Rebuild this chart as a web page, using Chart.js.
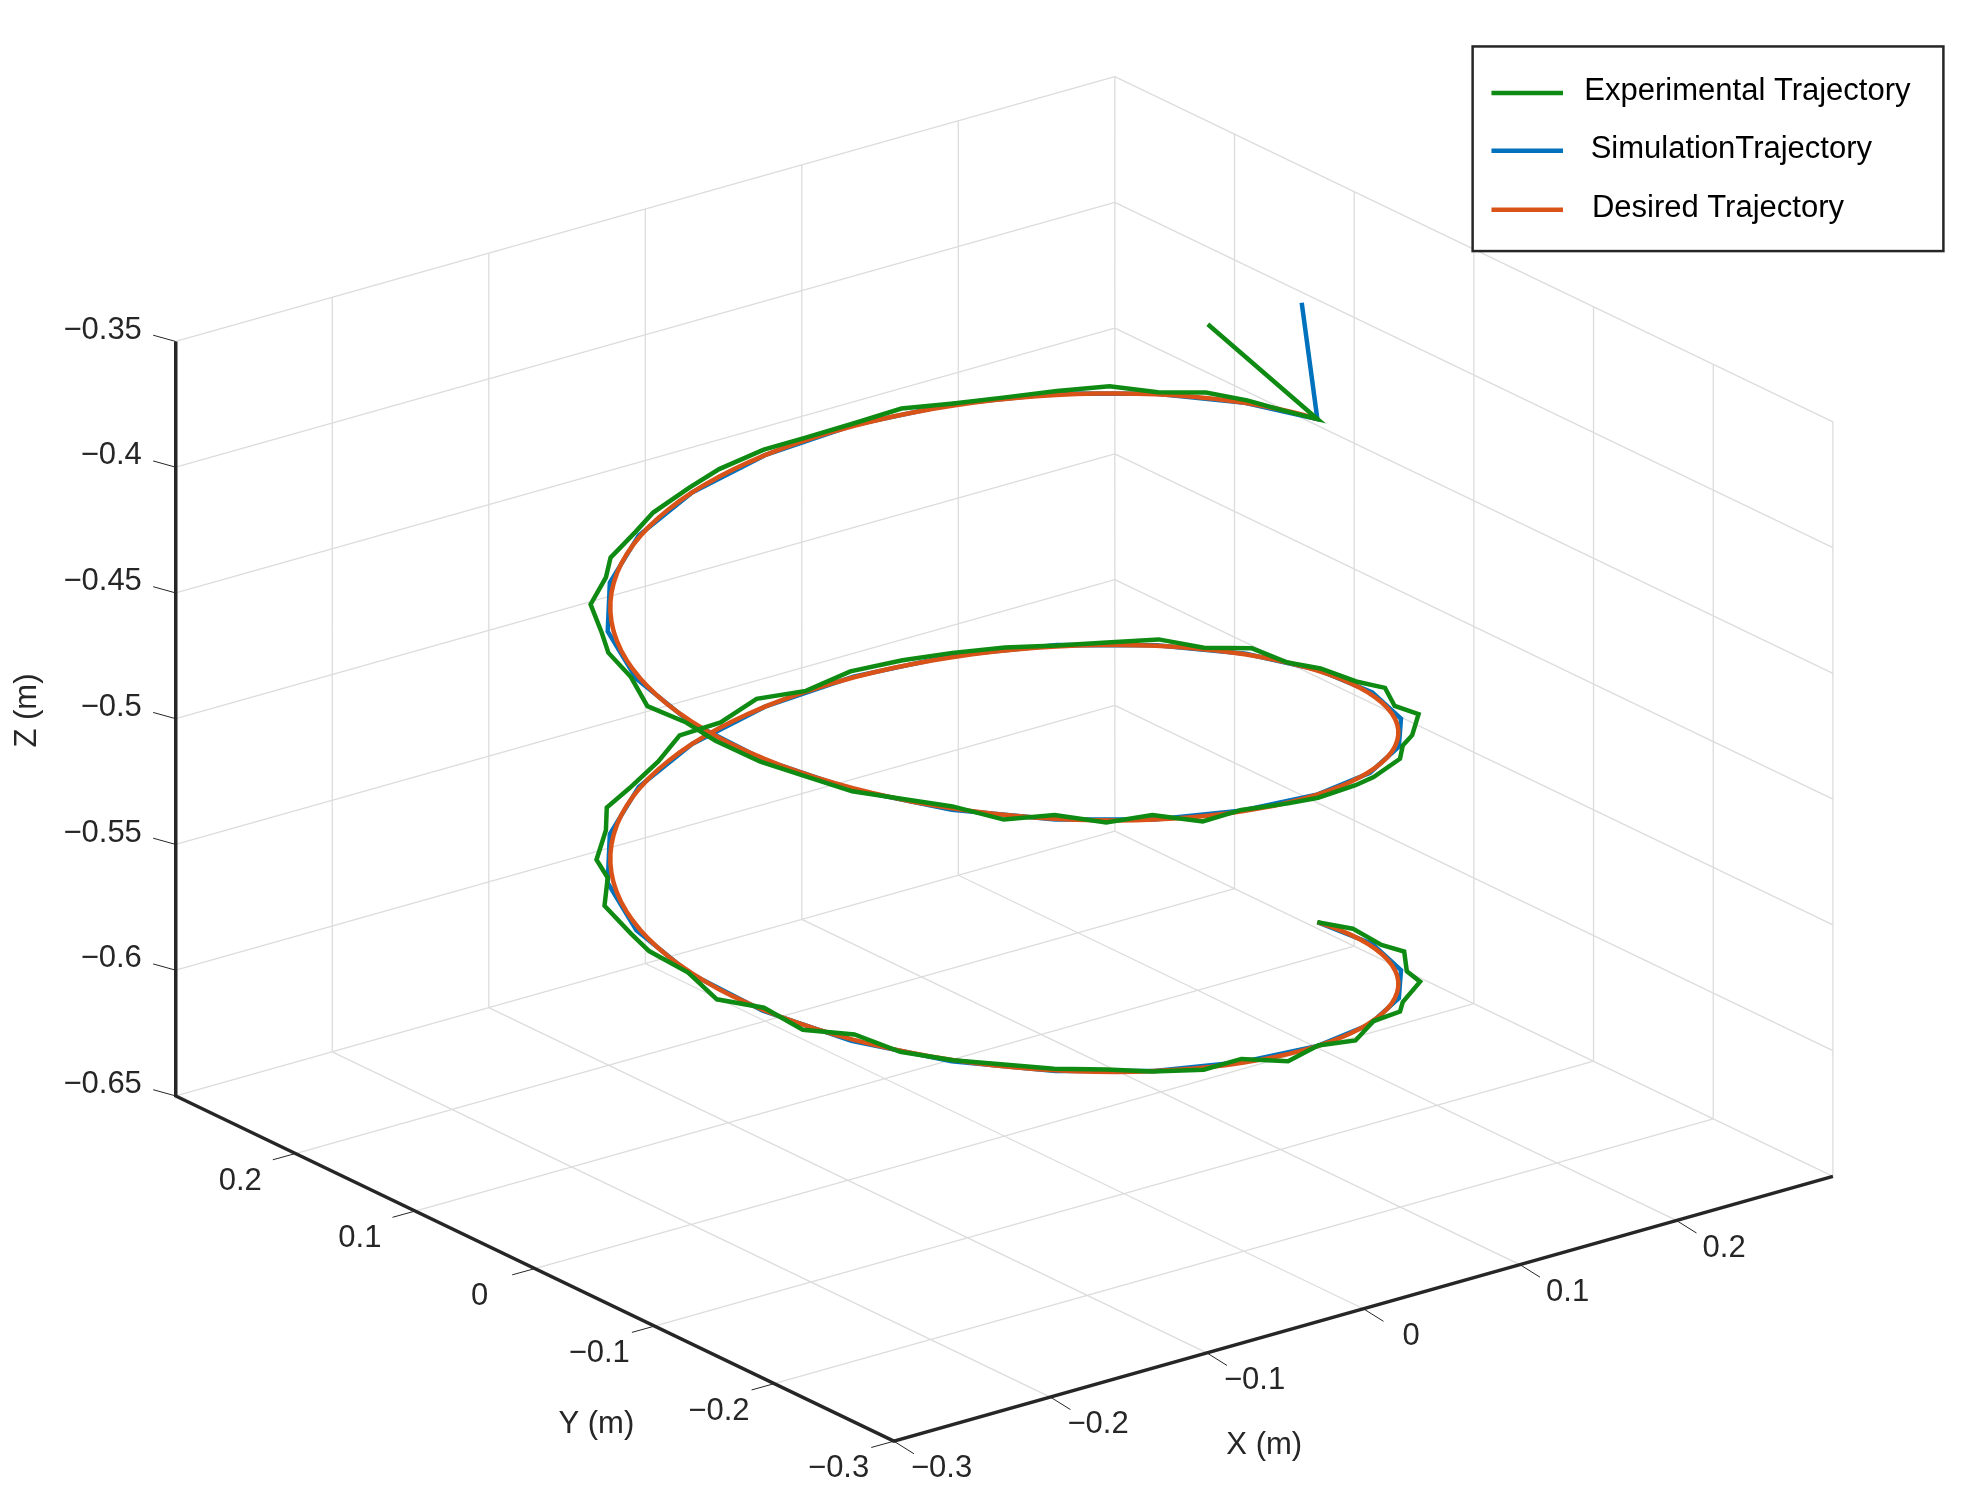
<!DOCTYPE html>
<html><head><meta charset="utf-8">
<script src="https://cdn.jsdelivr.net/npm/chart.js@4.4.1/dist/chart.umd.min.js"></script>
<style>html,body{margin:0;padding:0;background:#fff}#wrap{width:1966px;height:1511px}</style>
</head><body><div id="wrap"><canvas id="c" width="1966" height="1511"></canvas></div>
<script>
// ---- data ----
const xTicks = [-0.3,-0.2,-0.1,0,0.1,0.2,0.3];
const yTicks = [-0.3,-0.2,-0.1,0,0.1,0.2,0.3];
const zTicks = [-0.65,-0.6,-0.55,-0.5,-0.45,-0.4,-0.35];
const xTickLabels = ['−0.3','−0.2','−0.1','0','0.1','0.2'];
const yTickLabels = ['−0.3','−0.2','−0.1','0','0.1','0.2'];
const zTickLabels = ['−0.65','−0.6','−0.55','−0.5','−0.45','−0.4','−0.35'];
const seriesNames = ['Experimental Trajectory','SimulationTrajectory','Desired Trajectory'];
const helixRadius = 0.2, helixZStart = -0.6, helixZEnd = -0.4, helixTurns = 2;
// experimental deviations (every 7.5 deg), radial and vertical, metres
const expDr = [0.000,0.004,0.007,0.010,0.006,0.011,0.004,0.008,0.003,0.006,0.001,0.004,-0.002,0.003,-0.003,0.002,-0.004,0.001,-0.003,0.003,-0.002,0.004,0.000,0.006,0.002,0.008,0.005,0.010,0.003,0.007,0.004,0.009,0.006,0.003,0.008,0.004,0.007,0.002,0.005,0.001,0.004,-0.001,0.003,0.000,0.004,0.002,0.006,0.003,
 0.002,0.006,0.009,0.005,0.012,0.007,0.004,0.008,0.003,0.006,0.001,0.004,-0.002,0.002,-0.003,0.001,-0.002,0.003,-0.001,0.004,0.001,0.005,0.003,0.007,0.004,0.009,0.005,0.008,0.006,0.010,0.004,0.007,0.003,0.006,0.002,0.005,0.001,0.004,0.000,0.003,0.001,0.004,0.002,0.005,0.003,0.004,0.002,0.001,0.000];
const expDz = [0.000,0.001,-0.001,0.0015,-0.0005,0.001,-0.0015,0.0005,0.0015,-0.001,0.0005,-0.0015,0.001,0.000,-0.001,0.0015,-0.0005,0.001,-0.001,0.0005,0.0015,-0.0005,0.001,-0.0015,0.0005,0.0015,-0.001,0.001,0.002,-0.0005,0.0015,0.0005,-0.001,0.001,0.002,0.000,0.0015,-0.0005,0.001,0.002,0.0005,0.0015,-0.0005,0.001,0.0015,0.000,0.001,-0.001,
 0.0005,-0.001,0.001,-0.0005,0.0015,-0.001,0.0005,0.001,-0.0015,0.0005,-0.001,0.001,0.000,-0.0015,0.001,-0.0005,0.001,-0.001,0.0005,0.0015,-0.001,0.001,-0.0005,0.0015,0.0005,-0.001,0.001,0.0015,-0.0005,0.001,0.002,0.000,0.001,-0.0005,0.0015,0.0005,0.002,-0.0005,0.001,0.0015,0.0005,-0.0005,0.001,0.0015,0.000,0.001,0.0005,-0.0005,0.000];
// simulation deviations (every 15 deg), radial, metres
const simDr = [0.000,0.002,0.003,0.002,0.001,0.000,-0.001,0.000,0.001,0.002,0.002,0.001,0.001,0.002,0.003,0.002,0.001,0.000,0.000,0.001,0.002,0.002,0.001,0.001,
 0.001,0.002,0.003,0.002,0.001,0.000,-0.001,0.000,0.001,0.002,0.002,0.001,0.001,0.002,0.003,0.002,0.001,0.000,0.000,0.001,0.002,0.002,0.001,0.000,0.000];
const simTail = [0.19,0.0,-0.352];
const expTail = [0.13,0.0,-0.35];

// ---- projection (azimuth/elevation view onto reference frame units) ----
const W = 1566, H = 1203.6;
function P(x,y,z){
  const a=(x+0.3)/0.6, b=(0.3-y)/0.6, c=(z+0.65)/0.3;
  return {x:140+a*748+b*572, y:873-a*211+b*275-c*601};
}
function helix(n, dr, dz){
  const pts=[];
  for(let i=0;i<n;i++){
    const t = i/(n-1)*helixTurns*2*Math.PI;
    const r = helixRadius + (dr?dr[i]:0);
    const z = helixZStart + (helixZEnd-helixZStart)*i/(n-1) + (dz?dz[i]:0);
    pts.push(P(r*Math.cos(t), -r*Math.sin(t), z));
  }
  return pts;
}
const desired = helix(241);
const sim = helix(simDr.length, simDr); sim.push(P(...simTail));
const expPts = helix(expDr.length, expDr, expDz); expPts.push(P(...expTail));

// grid
const grid=[];
function seg(p,q){grid.push(P(...p),P(...q),{x:null,y:null});}
xTicks.forEach(x=>{seg([x,-0.3,-0.65],[x,0.3,-0.65]); seg([x,0.3,-0.65],[x,0.3,-0.35]);});
yTicks.forEach(y=>{seg([-0.3,y,-0.65],[0.3,y,-0.65]); seg([0.3,y,-0.65],[0.3,y,-0.35]);});
zTicks.forEach(z=>{seg([-0.3,0.3,z],[0.3,0.3,z]); seg([0.3,0.3,z],[0.3,-0.3,z]);});
const axes=[P(-0.3,0.3,-0.35),P(-0.3,0.3,-0.65),P(-0.3,-0.3,-0.65),P(0.3,-0.3,-0.65)];

const FONT='"Liberation Sans", Arial, sans-serif';
const overlay={id:'overlay',afterDatasetsDraw(chart){
  const ctx=chart.ctx, sx=chart.scales.x, sy=chart.scales.y;
  const X=v=>sx.getPixelForValue(v), Y=v=>sy.getPixelForValue(v);
  const k=X(1)-X(0);
  ctx.save();
  ctx.fillStyle='#262626'; ctx.strokeStyle='#262626'; ctx.lineWidth=1;
  ctx.font=`${Math.round(25*k)}px ${FONT}`;
  // z ticks
  ctx.textAlign='right'; ctx.textBaseline='middle';
  zTicks.forEach((z,i)=>{const p=P(-0.3,0.3,z);
    ctx.beginPath();ctx.moveTo(X(p.x),Y(p.y));ctx.lineTo(X(p.x-18),Y(p.y-5));ctx.stroke();
    ctx.fillText(zTickLabels[i],X(p.x-27),Y(p.y-9));});
  ctx.textAlign='center';
  yTickLabels.forEach((l,i)=>{const p=P(-0.3,yTicks[i],-0.65);
    ctx.beginPath();ctx.moveTo(X(p.x),Y(p.y));ctx.lineTo(X(p.x-18),Y(p.y+5));ctx.stroke();
    ctx.fillText(l,X(p.x-44),Y(p.y+22));});
  xTickLabels.forEach((l,i)=>{const p=P(xTicks[i],-0.3,-0.65);
    ctx.beginPath();ctx.moveTo(X(p.x),Y(p.y));ctx.lineTo(X(p.x+16),Y(p.y+10));ctx.stroke();
    ctx.fillText(l,X(p.x+38),Y(p.y+22));});
  ctx.fillText('Y (m)',X(475),Y(1135));
  ctx.fillText('X (m)',X(1007),Y(1151));
  ctx.save();ctx.translate(X(22),Y(566));ctx.rotate(-Math.PI/2);ctx.fillText('Z (m)',0,0);ctx.restore();
  // legend
  ctx.fillStyle='#fff';ctx.fillRect(X(1173),Y(37),X(1548)-X(1173),Y(200)-Y(37));
  ctx.lineWidth=2.5;ctx.strokeStyle='#262626';ctx.strokeRect(X(1173),Y(37),X(1548)-X(1173),Y(200)-Y(37));
  const cols=['#0f8a12','#0072bd','#d95319'], ly=[74,120,167], tx=[1262,1267,1268];
  ctx.textAlign='left';ctx.fillStyle='#000';ctx.lineWidth=4.5;
  seriesNames.forEach((n,i)=>{ctx.strokeStyle=cols[i];ctx.beginPath();ctx.moveTo(X(1188),Y(ly[i]));ctx.lineTo(X(1245),Y(ly[i]));ctx.stroke();
    ctx.fillText(n,X(tx[i]),Y(ly[i]-1));});
  ctx.restore();
}};
new Chart(document.getElementById('c'),{
  type:'scatter',
  data:{datasets:[
    {data:grid,borderColor:'#dcdcdc',borderWidth:1.3,showLine:true,pointRadius:0,spanGaps:false,order:10},
    {data:axes,borderColor:'#262626',borderWidth:3.5,showLine:true,pointRadius:0,order:9},
    {data:sim,borderColor:'#0072bd',borderWidth:4.5,showLine:true,pointRadius:0,order:3},
    {data:desired,borderColor:'#d95319',borderWidth:4.5,showLine:true,pointRadius:0,order:2},
    {data:expPts,borderColor:'#0f8a12',borderWidth:4.5,showLine:true,pointRadius:0,order:1}
  ]},
  options:{responsive:false,animation:false,devicePixelRatio:1,
    layout:{padding:0},
    plugins:{legend:{display:false},tooltip:{enabled:false}},
    scales:{x:{type:'linear',min:0,max:W,display:false},y:{type:'linear',min:0,max:H,reverse:true,display:false}}},
  plugins:[overlay]
});
</script></body></html>
